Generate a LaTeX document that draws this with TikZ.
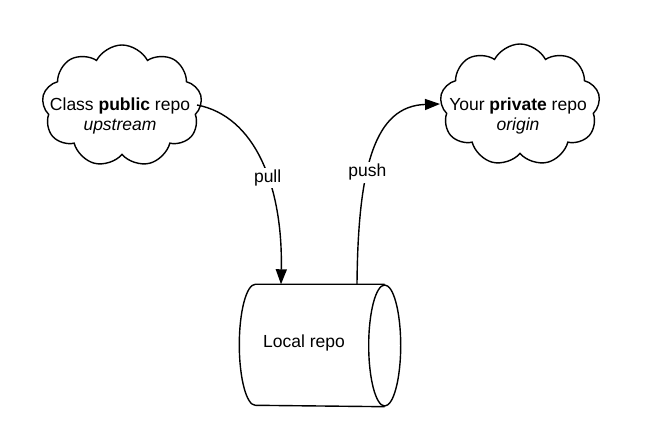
\documentclass[tikz,border=0pt]{standalone}
\usepackage{fontspec}
\setmainfont{Liberation Sans}
\usetikzlibrary{shapes.symbols,arrows.meta,calc}
\begin{document}
\begin{tikzpicture}[x=1pt,y=1pt,
  line width=1.4pt,
  txt/.style={font=\fontsize{17.5}{20}\selectfont, align=center, inner sep=1pt},
  cloudshape/.style={cloud, draw, cloud puffs=9, cloud puff arc=125, minimum width=160pt, minimum height=122pt, inner sep=0pt},
  conn/.style={line width=1.4pt, -{Triangle[length=15pt,width=11pt]}},
  lbl/.style={fill=white, font=\fontsize{17.5}{20}\selectfont, inner sep=2pt}
]
\useasboundingbox (0,0) rectangle (648,446);
% clouds
\node[cloudshape, shape border rotate=10] (cloud1) at (122,340) {};
\node[txt] (t1) at (120,330) {Class \textbf{public} repo\\ \textit{upstream}};
\node[cloudshape, shape border rotate=10] (cloud2) at (520,341) {};
\node[txt] (t2) at (518,330) {Your \textbf{private} repo\\ \textit{origin}};
% cylinder
\node[minimum width=160pt, minimum height=121pt, inner sep=0pt] (cyl) at (320,100.5) {};
\draw ($(cyl.north east)+(-16,0)$) -- ($(cyl.north west)+(16,0)$)
  arc[start angle=90,end angle=270,x radius=16,y radius=60.5]
  -- ($(cyl.south east)+(-16,0)$);
\draw ($(cyl.east)+(-16,0)$) ellipse[x radius=16, y radius=60.5];
\node[txt] (t3) at (304,103) {Local repo};
% connectors
\coordinate (pullstart) at (197,341);
\coordinate (pullend) at ($(cyl.north)+(-39,0)$);
\coordinate (pushstart) at ($(cyl.north)+(37,0)$);
\coordinate (pushend) at (440,342);
\draw[conn] (pullstart) .. controls (255,330) and (283,260) .. (pullend)
  node[lbl, pos=0.58] (lpull) {pull};
\draw[conn] (pushstart) .. controls (358,280) and (375,340) .. (pushend)
  node[lbl, pos=0.39] (lpush) {push};
\end{tikzpicture}
\end{document}
